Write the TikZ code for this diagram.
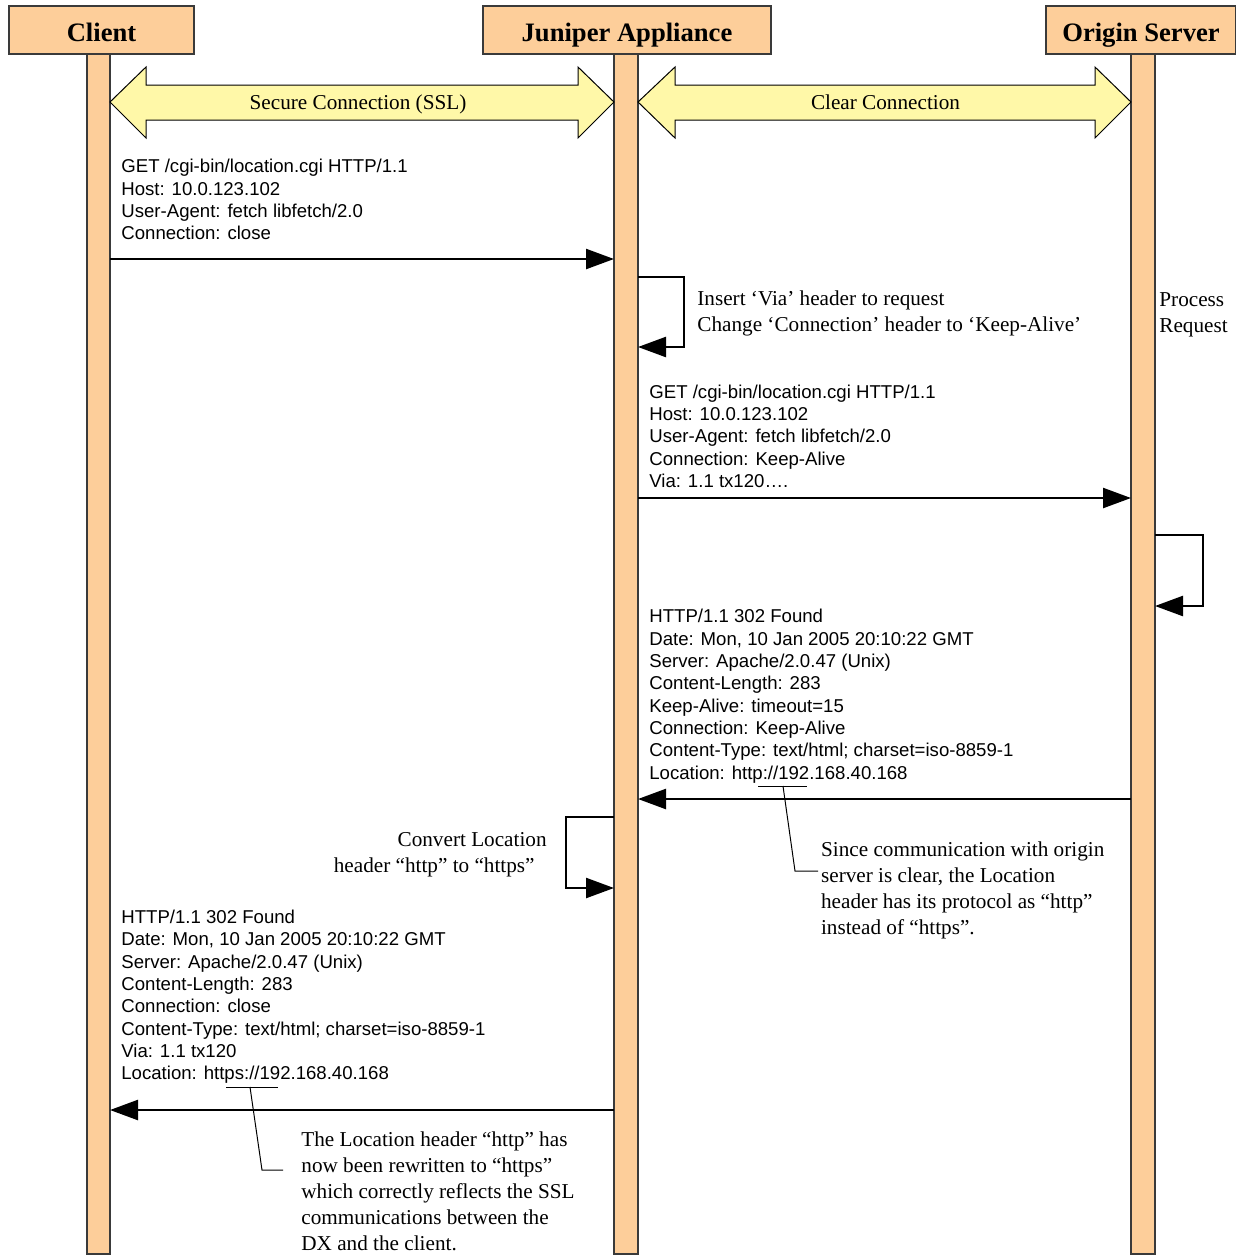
\documentclass[tikz,border=0pt]{standalone}
\usepackage{fontspec}
\setmainfont{Liberation Serif}
\newfontfamily\msgfamily{Liberation Sans}
\usetikzlibrary{arrows.meta}
\definecolor{peach}{HTML}{FDCE9A}
\definecolor{pale}{HTML}{FFF8A8}
\definecolor{edge}{HTML}{3A3A3A}
\begin{document}
\begin{tikzpicture}[x=0.5pt,y=-0.5pt,
  lifebar/.style={fill=peach,draw=edge,line width=0.6pt},
  hdr/.style={fill=peach,draw=edge,line width=0.6pt,inner sep=0pt,
    font=\fontsize{13.3pt}{16pt}\selectfont\bfseries,
    text height=11.5pt,text depth=0pt,minimum height=24pt},
  band/.style={fill=pale,draw=black,line width=0.5pt},
  bandtext/.style={inner sep=0pt,anchor=base,font=\fontsize{10.6pt}{13pt}\selectfont},
  msg/.style={line width=1.2pt,-{Triangle[length=14pt,width=10pt]}},
  msgtext/.style={inner sep=0pt,anchor=base west,align=left,
    font=\msgfamily\fontsize{9.3pt}{11.15pt}\selectfont},
  note/.style={inner sep=0pt,anchor=base west,align=left,
    font=\fontsize{10.6pt}{13pt}\selectfont},
  leader/.style={line width=0.5pt}]
\useasboundingbox (0,0) rectangle (1236,1255);

% lifelines
\draw[lifebar] (87,54) rectangle (110,1254);
\draw[lifebar] (614,54) rectangle (638,1254);
\draw[lifebar] (1131,54) rectangle (1155,1254);

% headers
\node[hdr,minimum width=92.5pt] (client) at (101.5,30) {Client};
\node[hdr,minimum width=144pt] (juniper) at (627,30) {Juniper Appliance};
\node[hdr,minimum width=95pt] (origin) at (1141,30) {Origin Server};

% connection bands
\draw[band] (110,102) -- (146,67) -- (146,85) -- (578,85) -- (578,67) -- (614,102)
  -- (578,138) -- (578,120) -- (146,120) -- (146,138) -- cycle;
\node[bandtext] (ssl) at (358,109) {Secure Connection (SSL)};
\draw[band] (638,102) -- (675,67) -- (675,85) -- (1095,85) -- (1095,67) -- (1131,102)
  -- (1095,138) -- (1095,120) -- (675,120) -- (675,138) -- cycle;
\node[bandtext] (clear) at (885.5,109) {Clear Connection};

% request from client (anchor = baseline of last line)
\node[msgtext] (req1) at (121,239.6) {GET /cgi-bin/location.cgi HTTP/1.1\\Host: 10.0.123.102\\User-Agent: fetch libfetch/2.0\\Connection: close};
\coordinate (c1) at (110,259);
\coordinate (j1) at (614,259);
\draw[msg] (c1) -- (j1);

% appliance modifies request
\coordinate (j2) at (638,277);
\coordinate (j3) at (638,347);
\draw[msg] (j2) -- ++(46,0) |- (j3);
\node[note] (ins) at (697,331) {Insert ‘Via’ header to request\\Change ‘Connection’ header to ‘Keep-Alive’};
\node[note] (proc) at (1159,332) {Process\\Request};

% forwarded request
\node[msgtext] (req2) at (649,487.5) {GET /cgi-bin/location.cgi HTTP/1.1\\Host: 10.0.123.102\\User-Agent: fetch libfetch/2.0\\Connection: Keep-Alive\\Via: 1.1 tx120….};
\coordinate (j4) at (638,498);
\coordinate (o1) at (1131,498);
\draw[msg] (j4) -- (o1);

% origin processing
\coordinate (o2) at (1155,535);
\coordinate (o3) at (1155,606);
\draw[msg] (o2) -- ++(48,0) |- (o3);

% response from origin
\node[msgtext] (resp1) at (649,779) {HTTP/1.1 302 Found\\Date: Mon, 10 Jan 2005 20:10:22 GMT\\Server: Apache/2.0.47 (Unix)\\Content-Length: 283\\Keep-Alive: timeout=15\\Connection: Keep-Alive\\Content-Type: text/html; charset=iso-8859-1\\Location: http://192.168.40.168};
\coordinate (o4) at (1131,799);
\coordinate (j5) at (638,799);
\draw[msg] (o4) -- (j5);

\coordinate (u1a) at (758,786);
\coordinate (u1b) at (807,786);
\draw[leader] (u1a) -- (u1b);
\node[note] (since) at (820.7,934.7) {Since communication with origin\\server is clear, the Location\\header has its protocol as “http”\\instead of “https”.};
\draw[leader] (783,786) -- (795,871) -- (818,871);

% appliance converts location
\coordinate (j6) at (614,817);
\coordinate (j7) at (614,888);
\draw[msg] (j6) -- ++(-48,0) |- (j7);
\node[note,anchor=base east] (conv1) at (547,846.5) {Convert Location};
\node[note,anchor=base east] (conv2) at (535,872) {header “http” to “https”};

% response to client
\node[msgtext] (resp2) at (121,1079.6) {HTTP/1.1 302 Found\\Date: Mon, 10 Jan 2005 20:10:22 GMT\\Server: Apache/2.0.47 (Unix)\\Content-Length: 283\\Connection: close\\Content-Type: text/html; charset=iso-8859-1\\Via: 1.1 tx120\\Location: https://192.168.40.168};
\coordinate (j8) at (614,1110);
\coordinate (c2) at (110,1110);
\draw[msg] (j8) -- (c2);

\coordinate (u2a) at (226,1087);
\coordinate (u2b) at (278,1087);
\draw[leader] (u2a) -- (u2b);
\node[note] (rewr) at (301,1250.5) {The Location header “http” has\\now been rewritten to “https”\\which correctly reflects the SSL\\communications between the\\DX and the client.};
\draw[leader] (250,1087) -- (262,1170) -- (283,1170);
\end{tikzpicture}
\end{document}
